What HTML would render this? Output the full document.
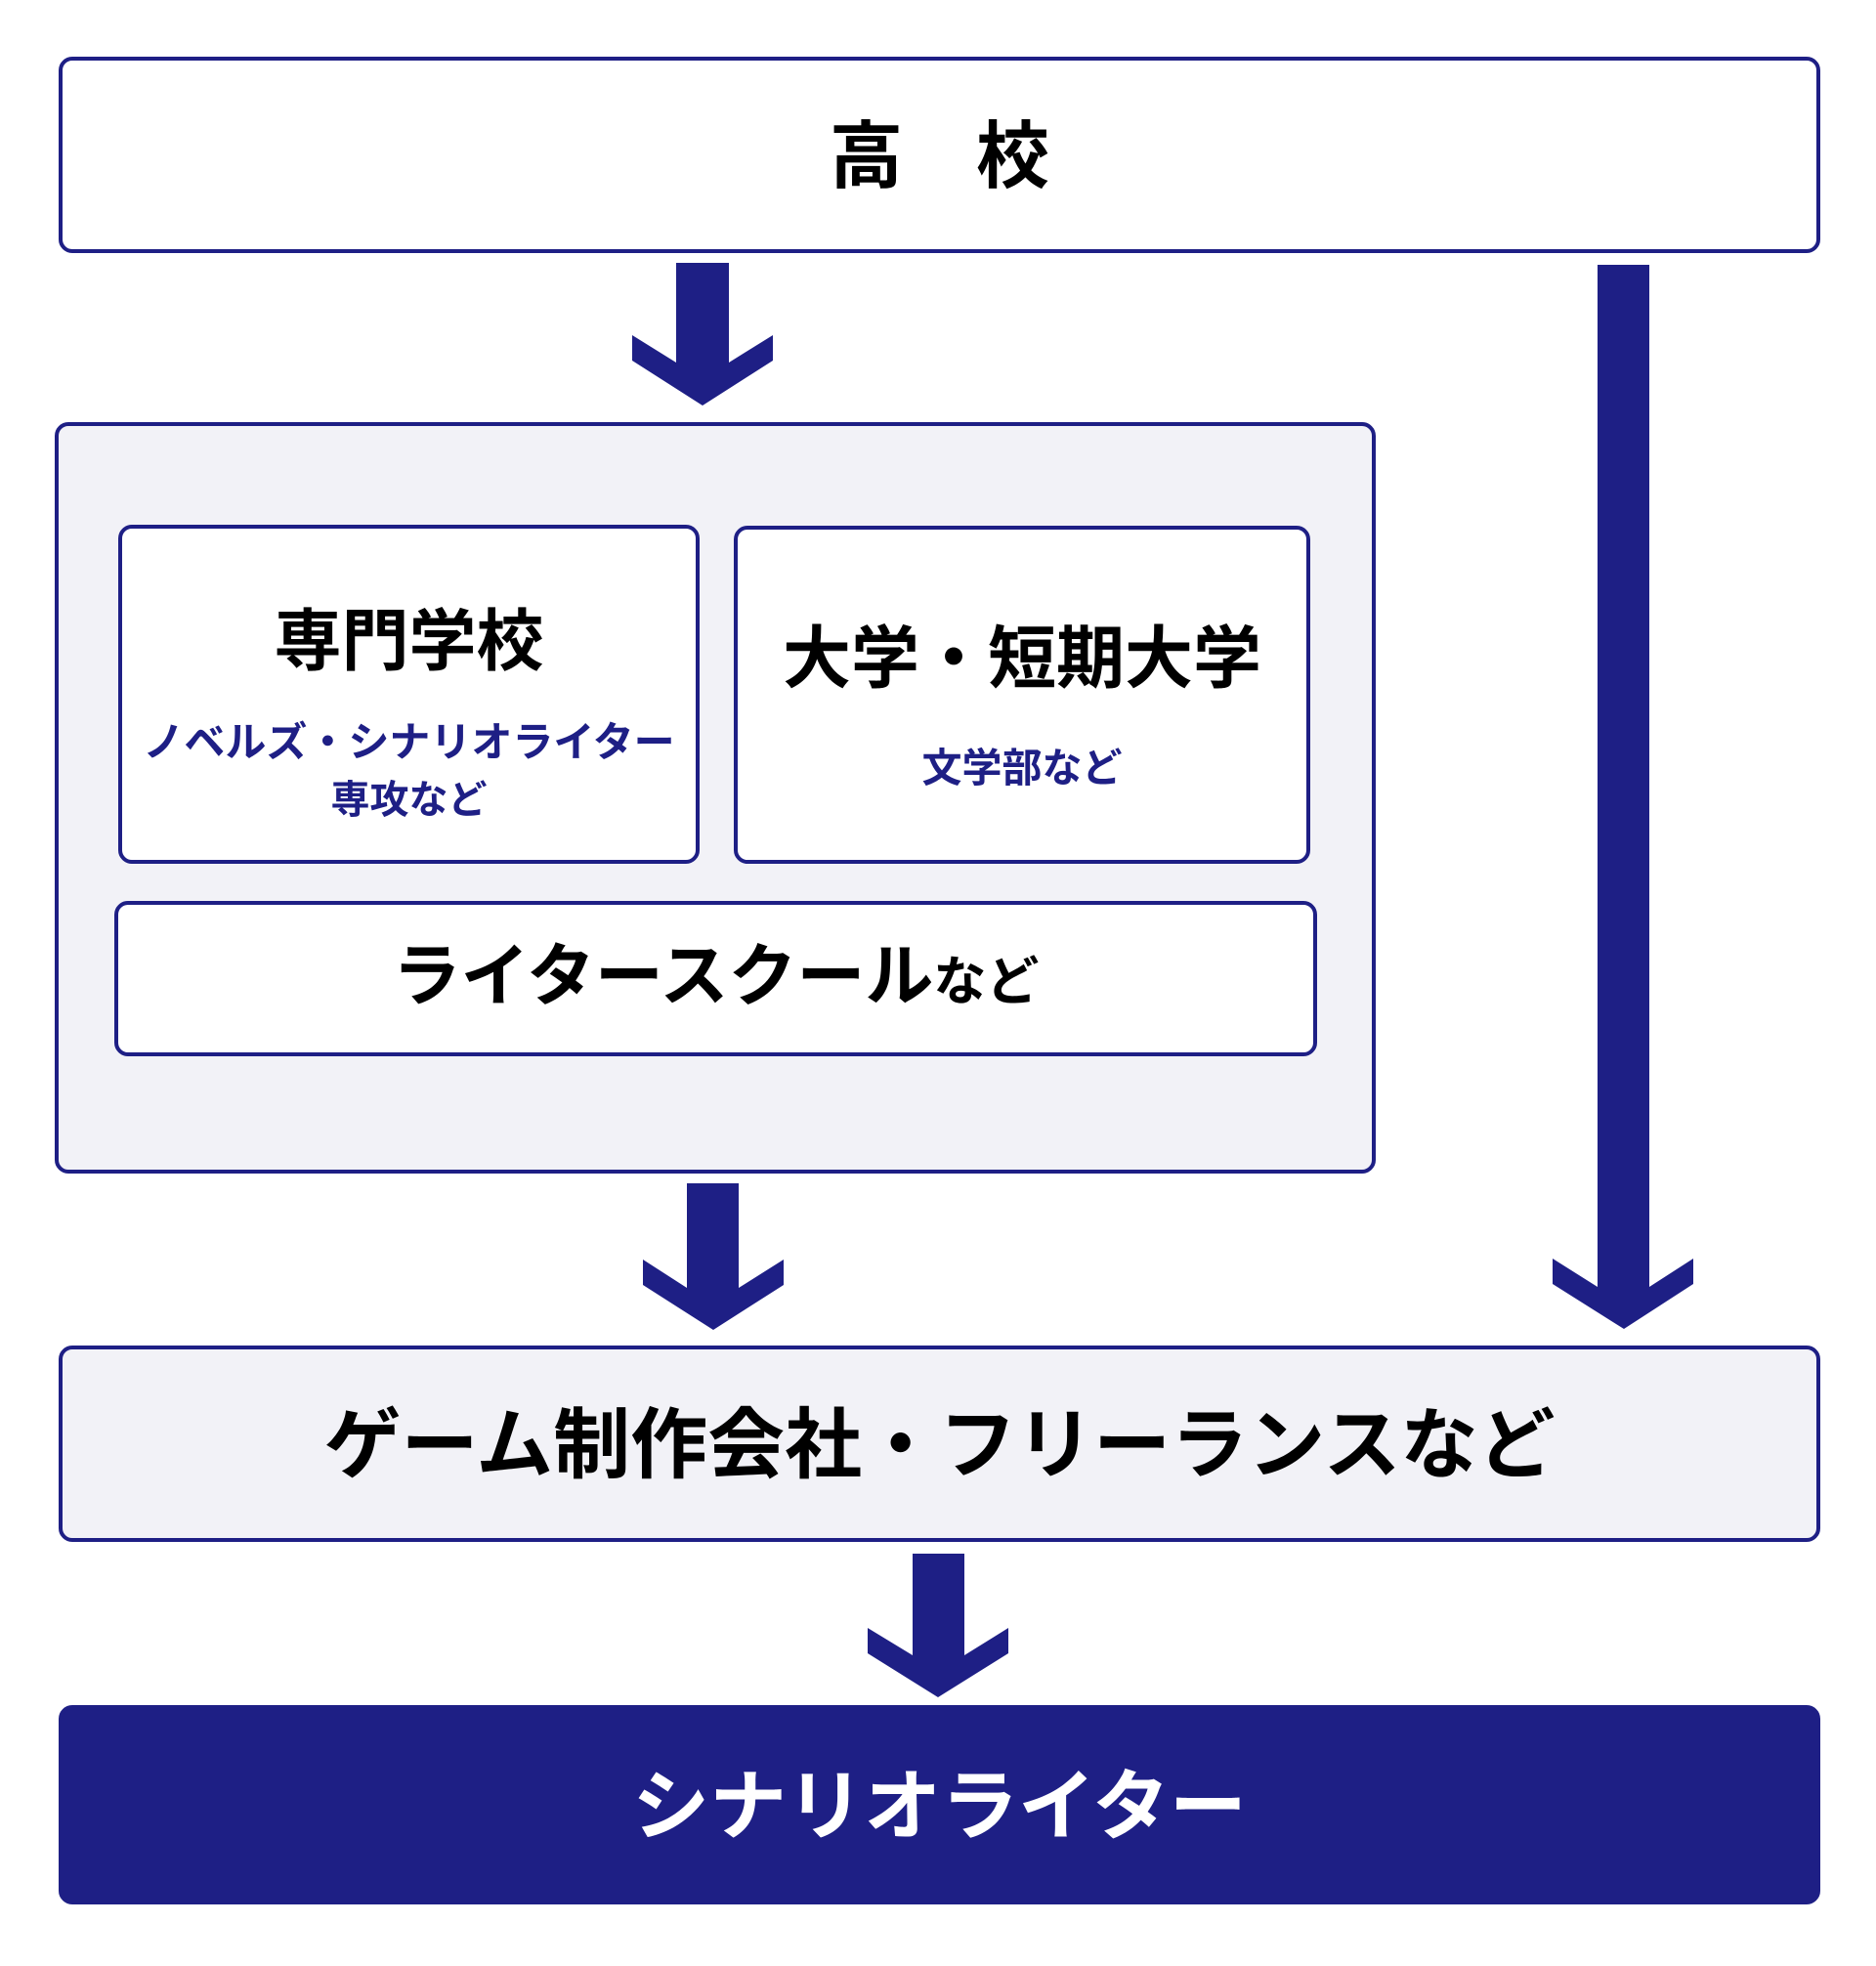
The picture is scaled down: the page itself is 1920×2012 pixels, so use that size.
<!DOCTYPE html>
<html><head><meta charset="utf-8"><style>
body{margin:0;width:1920px;height:2012px;background:#fff;position:relative;overflow:hidden;font-family:"Liberation Sans","Noto Sans CJK JP",sans-serif;font-weight:bold}
.b{position:absolute;box-sizing:border-box;border:4px solid #1e1f85;border-radius:14px;background:#fff}
.t{position:absolute;left:0;right:0;text-align:center;white-space:nowrap;line-height:1}
.s{color:#1e1f85}
</style></head><body>
<div class="b" style="left:60px;top:58px;width:1803px;height:201px"><div class="t" style="top:61px;font-size:75px;letter-spacing:0">高　校</div></div>

<div class="b" style="left:56px;top:432px;width:1352px;height:769px;background:#f2f2f7"></div>
<div class="b" style="left:121px;top:537px;width:595px;height:347px">
 <div class="t" style="top:81px;font-size:69px">専門学校</div>
 <div class="t s" style="top:198px;font-size:42px">ノベルズ・シナリオライター</div>
 <div class="t s" style="top:258px;font-size:40px">専攻など</div>
</div>
<div class="b" style="left:751px;top:538px;width:590px;height:346px">
 <div class="t" style="top:97px;font-size:70px">大学・短期大学</div>
 <div class="t s" style="top:224px;font-size:41px">文学部など</div>
</div>
<div class="b" style="left:117px;top:922px;width:1231px;height:159px">
 <div class="t" style="top:38px;font-size:70px">ライタースクール<span style="font-size:54px">など</span></div>
</div>

<div class="b" style="left:60px;top:1377px;width:1803px;height:201px;background:#f2f2f7">
 <div class="t" style="top:58px;font-size:79px">ゲーム制作会社・フリーランスなど</div>
</div>
<div class="b" style="left:60px;top:1745px;width:1803px;height:204px;background:#1e1f85;border-color:#1e1f85">
 <div class="t" style="top:60px;font-size:79px;color:#fff">シナリオライター</div>
</div>

<svg width="1920" height="2012" style="position:absolute;left:0;top:0">
<g fill="#1e1f85">
<polygon points="692,269 746,269 746,371 791,343 791,369 719,415 647,369 647,343 692,371"/>
<polygon points="1635,271 1688,271 1688,1317 1733,1288 1733,1314 1662,1360 1589,1314 1589,1288 1635,1317"/>
<polygon points="703,1211 756,1211 756,1318 802,1289 802,1315 730,1361 658,1315 658,1289 703,1318"/>
<polygon points="934,1590 987,1590 987,1694 1032,1666 1032,1692 960,1737 888,1692 888,1666 934,1694"/>
</g></svg>
</body></html>
